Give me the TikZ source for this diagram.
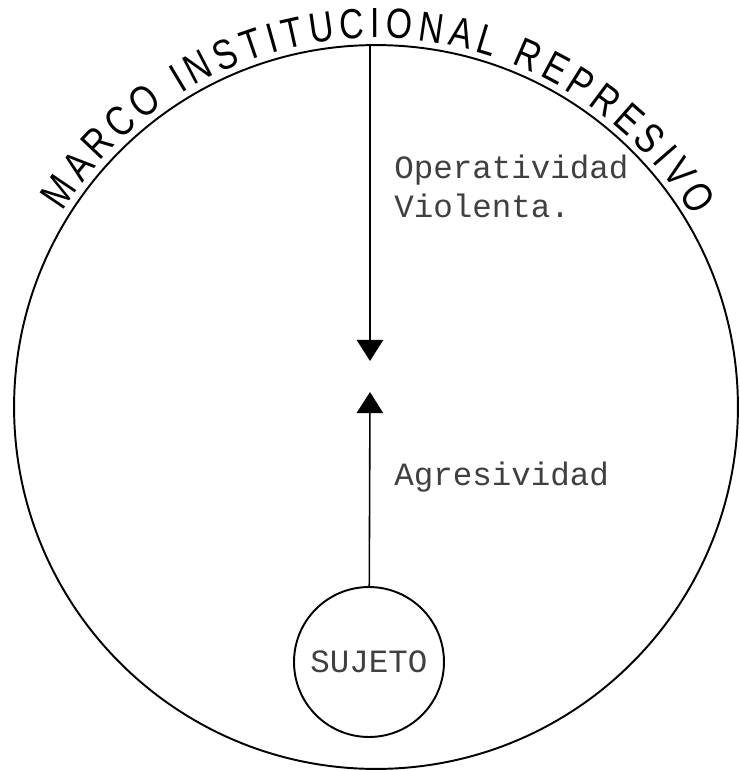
\documentclass[tikz,border=0pt]{standalone}
\usepackage{fontspec}
\newfontfamily\typefont{Liberation Mono}
\newfontfamily\handfont[FakeStretch=0.8]{Liberation Sans}
\usepackage{tikz}
\usetikzlibrary{arrows.meta,decorations.text}

\tikzset{typed/.style={font=\typefont\fontsize{18.5}{22.7}\selectfont,text=black!75,inner sep=0pt},
flow/.style={line width=0.9pt,-{Triangle[width=15pt,length=12pt]}}}

\begin{document}
\begin{tikzpicture}[x=0.02cm,y=0.02cm]
\useasboundingbox(-376,-364)rectangle(364,407);
\node[circle,draw,line width=1.1pt,minimum size=14.48cm](marco)at(0,0){};
\node[circle,draw,line width=1.1pt,minimum size=3cm,typed](sujeto)at(-7,-255){SUJETO};
\coordinate(baja)at(-6,46);
\coordinate(sube)at(-6,15);
\draw[flow](baja|-marco.north)--(baja);
\draw[flow](sujeto)--(sube);
\node[typed,anchor=base west,align=left](operatividad)at(18,189){Operatividad\\Violenta.};
\node[typed,anchor=base west](agresividad)at(18,-78){Agresividad};
\path[decorate,decoration={text along path,text align={fit to path},
text={|\handfont\fontsize{24}{24}\selectfont|MARCO INSTITUCIONAL REPRESIVO}}]
(148:369)arc[start angle=148,end angle=31,radius=369];
\end{tikzpicture}
\end{document}
